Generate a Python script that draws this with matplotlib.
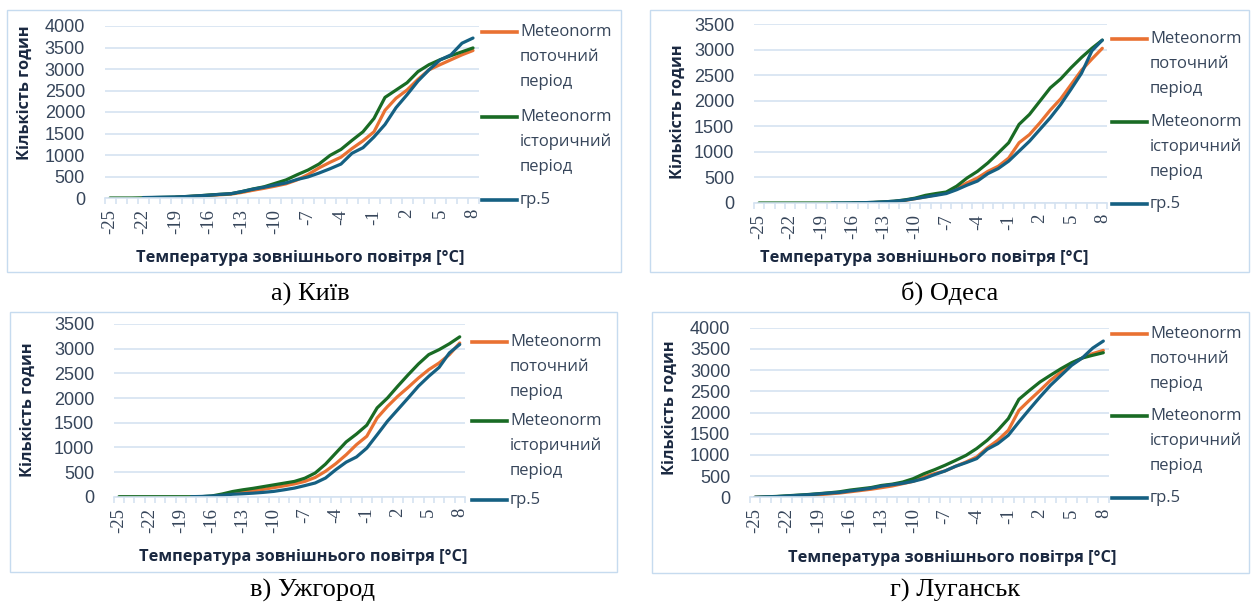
import matplotlib
matplotlib.use("Agg")
import matplotlib.pyplot as plt
from matplotlib.lines import Line2D
from matplotlib.patches import Rectangle
import numpy as np

nan = float("nan")

W, H = 1255, 609

TEMPS = [-25, -24, -23, -22, -21, -20, -19, -18, -17, -16, -15, -14, -13, -12, -11, -10, -9,
         -8, -7, -6, -5, -4, -3, -2, -1, 0, 1, 2, 3, 4, 5, 6, 7, 8]
TEMP_TICKS = [-25, -22, -19, -16, -13, -10, -7, -4, -1, 2, 5, 8]

SERIES_LABELS = ["Meteonorm\nпоточний\nперіод", "Meteonorm\nісторичний\nперіод", "гр.5"]
SERIES_COLORS = ["#E97132", "#196B24", "#156082"]

# Київ
kyiv_current = [nan, nan, nan, nan, nan, nan, 20, 30, 45, 60, 75, 90, 130, 180, 225, 275, 330,
                420, 545, 700, 830, 950, 1150, 1330, 1540, 2040, 2320, 2510, 2760, 2980, 3100,
                3215, 3330, 3430]
kyiv_hist = [0, 0, 0, 5, 10, 15, 20, 35, 50, 70, 85, 100, 150, 210, 260, 340, 420, 540, 650,
             790, 990, 1130, 1340, 1540, 1850, 2340, 2510, 2680, 2940, 3100, 3215, 3310, 3400, 3490]
kyiv_gr5 = [nan, nan, nan, 10, 15, 20, 25, 35, 50, 65, 85, 100, 150, 205, 250, 300, 350, 430,
            490, 580, 680, 790, 1040, 1170, 1420, 1710, 2100, 2400, 2720, 2980, 3210, 3330,
            3600, 3720]

# Одеса
odesa_current = [nan] * 9 + [1, 3, 8, 15, 28, 50, 85, 120, 160, 200, 280, 395, 490, 620, 720,
                             880, 1180, 1340, 1570, 1820, 2040, 2320, 2600, 2820, 3030]
odesa_hist = [0] * 9 + [2, 5, 12, 22, 35, 60, 95, 150, 185, 215, 330, 490, 620, 785, 980, 1180,
                        1540, 1735, 1995, 2255, 2430, 2650, 2850, 3030, 3190]
odesa_gr5 = [nan] * 7 + [0, 0, 2, 6, 12, 22, 35, 55, 85, 118, 150, 185, 260, 350, 430, 575, 675,
                         820, 1015, 1210, 1440, 1670, 1930, 2230, 2540, 2980, 3190]

# Ужгород
uzh_current = [nan] * 9 + [5, 30, 70, 100, 120, 150, 185, 220, 260, 310, 390, 515, 670, 850,
                           1055, 1225, 1595, 1830, 2035, 2215, 2405, 2575, 2710, 2880, 3115]
uzh_hist = [0] * 9 + [15, 55, 105, 140, 170, 205, 240, 275, 310, 375, 480, 660, 885, 1110, 1270,
                      1450, 1800, 2000, 2240, 2470, 2690, 2880, 2980, 3100, 3240]
uzh_gr5 = [nan] * 7 + [0, 5, 15, 30, 50, 60, 72, 88, 108, 140, 175, 225, 278, 378, 548, 700, 805,
                       985, 1255, 1530, 1765, 2000, 2240, 2440, 2620, 2915, 3085]

# Луганськ
lug_current = [0, 5, 10, 20, 30, 45, 60, 80, 100, 130, 160, 190, 228, 267, 322, 377, 480, 558,
               621, 731, 833, 951, 1163, 1344, 1580, 2050, 2290, 2520, 2760, 2955, 3150, 3285,
               3390, 3465]
lug_hist = [0, 10, 20, 35, 50, 65, 85, 105, 130, 170, 200, 230, 280, 310, 360, 440, 555, 650,
            755, 870, 990, 1150, 1345, 1580, 1855, 2310, 2520, 2720, 2880, 3035, 3175, 3285,
            3350, 3410]
lug_gr5 = [0, 10, 15, 30, 45, 60, 80, 100, 115, 150, 180, 215, 265, 298, 330, 377, 440, 534, 621,
           731, 817, 912, 1132, 1265, 1462, 1776, 2075, 2366, 2641, 2877, 3113, 3285, 3520, 3685]

CAPTIONS = ["а) Київ", "б) Одеса", "в) Ужгород", "г) Луганськ"]
YLABEL = "Кількість годин"
XLABEL = "Температура зовнішнього повітря [°C]"

TXT = "#36455A"
TITLE_TXT = "#1A2840"
GRID = "#D5E3F1"
FRAME = "#C6DBEF"
SANS = ["Liberation Sans", "DejaVu Sans"]
BOLD = ["Open Sans", "DejaVu Sans"]
SERIF = ["Liberation Serif", "DejaVu Serif"]


def fx(x):
    return x / W


def fy(y):
    return 1 - y / H


def draw_panel(fig, series, ymax, frame, plot, ylab_xy, xlab_xy, legend, caption, cap_xy):
    # light frame around the chart
    fl, ft, fr, fb = frame
    fig.add_artist(Rectangle((fx(fl), fy(fb)), fx(fr - fl), (fb - ft) / H,
                             transform=fig.transFigure, fill=False, ec=FRAME, lw=1.0))

    l, r, t, b = plot
    ax = fig.add_axes([fx(l), fy(b), fx(r - l), (b - t) / H])
    for vals, color in zip(series, SERIES_COLORS):
        ax.plot(TEMPS, vals, color=color, lw=2.3, solid_capstyle="round")

    ax.set_xlim(TEMPS[0] - 0.5, TEMPS[-1] + 0.5)
    ax.set_ylim(0, ymax)
    ax.set_yticks(np.arange(0, ymax + 1, 500))
    ax.grid(axis="y", color=GRID, lw=1.2)
    ax.set_axisbelow(True)
    for s in ("top", "right", "left"):
        ax.spines[s].set_visible(False)
    ax.spines["bottom"].set_color(GRID)
    ax.spines["bottom"].set_linewidth(1.2)

    ax.set_xticks(TEMP_TICKS)
    ax.set_xticklabels([str(v) for v in TEMP_TICKS], rotation=90, va="top",
                       family=SERIF, fontsize=13.5, color=TXT)
    ax.set_xticks(np.arange(TEMPS[0] - 0.5, TEMPS[-1] + 1), minor=True)
    ax.tick_params(axis="x", which="major", length=0, pad=8)
    ax.tick_params(axis="x", which="minor", length=4, color=GRID, width=1.2)
    ax.tick_params(axis="y", length=0, pad=14)
    for lab in ax.get_yticklabels():
        lab.set_family(SANS)
        lab.set_fontsize(13)
        lab.set_color(TXT)

    fig.text(fx(ylab_xy[0]), fy(ylab_xy[1]), YLABEL, rotation=90, ha="center", va="center",
             family=BOLD, fontweight="bold", fontsize=11.8, color=TITLE_TXT)
    fig.text(fx(xlab_xy[0]), fy(xlab_xy[1]), XLABEL, ha="center", va="center",
             family=BOLD, fontweight="bold", fontsize=11.8, color=TITLE_TXT)

    # legend on the right side, line next to the first text row
    lx, ys = legend
    for label, color, y in zip(SERIES_LABELS, SERIES_COLORS, ys):
        fig.add_artist(Line2D([fx(lx), fx(lx + 35)], [fy(y), fy(y)], color=color, lw=2.6,
                              transform=fig.transFigure))
        for i, row in enumerate(label.split("\n")):
            fig.text(fx(lx + 38), fy(y + i * 25), row, ha="left", va="center",
                     family=BOLD, fontsize=12, color=TXT)

    fig.text(fx(cap_xy[0]), fy(cap_xy[1]), caption, ha="center", va="center",
             family=SERIF, fontsize=19, color="black")


def main():
    fig = plt.figure(figsize=(W / 100, H / 100), dpi=100)

    draw_panel(fig, [kyiv_current, kyiv_hist, kyiv_gr5], 4000,
               (7, 10, 621, 272), (104.5, 478.5, 26, 198),
               (25, 93), (300, 258), (482, [32, 117, 200]), CAPTIONS[0], (310, 294))
    draw_panel(fig, [odesa_current, odesa_hist, odesa_gr5], 3500,
               (650, 10, 1249, 272), (753.8, 1107.5, 24.3, 203),
               (678, 112), (924, 258), (1112, [39, 122, 204]), CAPTIONS[1], (950, 293))
    draw_panel(fig, [uzh_current, uzh_hist, uzh_gr5], 3500,
               (10, 312, 617, 572), (113.8, 464.9, 324, 496.7),
               (28, 410), (303, 557), (472, [342, 421, 500]), CAPTIONS[2], (313, 590))
    draw_panel(fig, [lug_current, lug_hist, lug_gr5], 4000,
               (652, 312, 1249, 573), (749.7, 1108.6, 327.7, 497.3),
               (670, 408), (952, 558), (1112, [334, 416, 498]), CAPTIONS[3], (955, 590))

    fig.savefig("out.png", dpi=100, facecolor="white")
    plt.close(fig)


if __name__ == "__main__":
    main()
